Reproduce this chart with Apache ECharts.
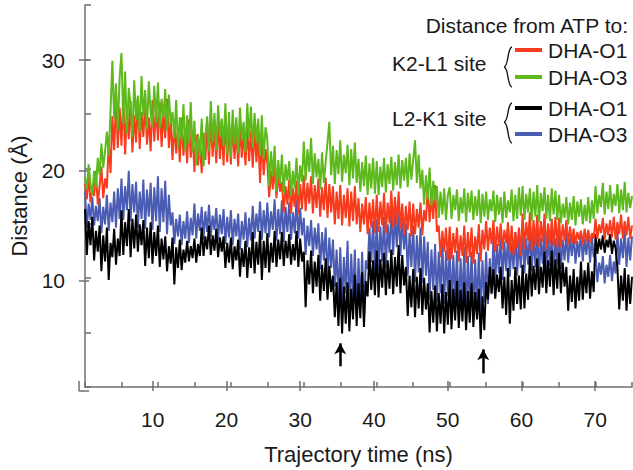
<!DOCTYPE html>
<html><head><meta charset="utf-8">
<script src="https://cdn.jsdelivr.net/npm/echarts@6/dist/echarts.min.js"></script>
<style>html,body{margin:0;padding:0;background:#fff}#c{width:633px;height:470px}</style>
</head><body><div id="c"></div>
<script>
// ---- data ----
const timeStepNs = 0.25;         // sampling interval of the arrays below (ns)
const xTickLabels = [10, 20, 30, 40, 50, 60, 70];
const yTickLabels = [10, 20, 30];
const seriesNames = ['K2-L1 DHA-O1', 'K2-L1 DHA-O3', 'L2-K1 DHA-O1', 'L2-K1 DHA-O3'];
const legendTitle = 'Distance from ATP to:';
const groupNames = ['K2-L1 site', 'L2-K1 site'];
const itemNames = ['DHA-O1', 'DHA-O3'];

// K2-L1 site, DHA-O1 (red) — one row per 5 ns
const k2l1O1 = [
 18.6,17.2,19.4,16.9,18.1,17.5,19.8,16.7,18.4,20.2,17.3,19.1,18.2,22.4,19.6,24.8,21.7,26.3,21.9,25.6,
 22.1,26.8,21.3,25.4,22.7,26.2,21.5,24.9,22.4,26.5,21.8,25.2,22.9,26.0,22.2,24.7,21.6,26.3,22.5,25.8,
 22.6,26.1,22.0,25.3,22.8,26.4,21.9,24.6,20.8,24.3,21.4,23.8,20.6,24.7,21.2,23.6,20.5,24.5,21.0,23.4,
 19.7,23.1,20.3,22.6,19.6,23.3,20.8,24.2,20.4,24.8,21.1,23.9,20.5,24.6,20.9,23.7,20.3,24.9,20.6,24.1,
 20.4,24.2,20.9,23.6,20.2,24.0,21.0,23.4,20.3,23.8,20.7,23.5,20.1,23.9,20.6,23.2,18.7,22.9,19.4,21.8,
 20.5,17.4,19.8,18.1,20.3,17.3,19.5,17.9,18.8,16.0,18.4,16.7,19.0,15.9,18.2,16.5,18.9,15.8,18.6,16.3,
 19.4,16.1,18.7,16.8,19.3,15.9,18.5,16.4,19.1,15.6,18.3,16.2,19.2,15.5,18.6,16.0,18.4,14.9,17.9,15.4,
 18.5,14.8,17.6,15.5,18.2,14.7,17.9,15.2,18.4,14.9,17.3,14.2,16.8,14.9,17.4,14.0,16.9,14.6,17.2,14.1,
 17.6,14.2,17.0,14.8,17.8,14.1,16.9,15.0,18.0,14.6,17.4,14.9,17.9,14.5,16.8,13.9,16.6,14.4,17.0,13.8,
 16.8,14.0,16.3,14.6,16.9,13.9,16.2,15.2,18.4,15.1,17.6,15.4,18.5,14.2,14.8,11.9,14.3,12.4,14.6,11.6,
 14.7,11.7,14.1,12.3,14.6,11.5,13.9,12.0,14.8,11.4,14.2,11.9,14.6,11.3,13.8,12.2,14.9,11.5,14.4,12.6,
 15.2,12.5,14.6,13.1,15.3,12.4,14.7,12.9,15.0,12.6,14.4,13.2,15.1,12.4,14.8,12.1,14.2,12.7,14.6,12.0,
 15.9,12.6,15.1,13.4,16.0,12.5,15.3,13.0,15.8,12.8,15.2,13.3,15.9,12.6,15.0,13.1,15.4,12.9,15.6,12.8,
 15.5,12.8,14.9,13.4,15.3,13.0,14.7,13.2,14.5,13.1,14.2,13.5,14.3,13.0,14.5,13.3,14.4,13.2,14.1,13.6,
 15.4,13.6,14.9,14.1,15.5,13.5,15.0,13.9,15.3,13.7,15.6,13.5,15.1,14.0,15.8,13.6,15.2,13.9,15.6,13.6,
 14.8];
// K2-L1 site, DHA-O3 (green)
const k2l1O3 = [
 19.2,18.1,20.4,18.6,17.6,19.8,18.3,21.0,19.4,22.3,20.1,21.6,23.4,21.2,25.3,29.9,24.6,27.8,23.5,28.4,
 30.6,24.1,28.9,23.2,27.4,25.8,22.9,28.1,24.5,26.7,23.3,28.5,24.8,27.2,23.6,28.0,25.1,23.8,27.6,24.2,
 27.9,23.7,26.4,24.6,27.3,23.5,26.8,24.1,25.2,22.8,26.3,21.9,24.7,22.6,25.9,21.6,24.9,22.3,26.1,21.5,
 24.4,20.3,23.2,21.1,24.6,20.2,22.9,24.8,21.6,26.2,22.4,25.1,21.7,25.8,23.0,24.6,22.1,26.0,21.3,25.2,
 21.0,25.4,22.2,24.7,21.4,25.6,22.6,24.3,21.5,26.0,22.8,25.7,21.9,25.1,22.4,24.6,21.2,24.9,20.9,23.8,
 22.7,18.4,21.6,19.3,22.1,17.9,20.8,18.6,21.3,17.7,20.4,18.9,20.7,17.5,19.8,18.2,21.0,17.6,20.3,18.8,
 22.5,18.9,21.8,19.7,22.8,18.6,21.4,19.2,20.9,18.1,21.5,18.7,20.6,22.4,24.3,19.4,22.1,18.6,21.7,19.5,
 22.6,18.8,21.3,19.6,22.2,18.5,21.8,19.1,22.4,18.7,20.9,17.9,20.6,18.4,21.2,17.6,20.5,18.2,21.0,17.7,
 20.7,17.6,20.2,18.3,21.0,17.8,20.4,18.6,21.1,18.0,20.6,18.5,21.3,18.2,20.8,18.9,21.0,18.3,21.4,19.0,
 20.8,22.6,18.7,21.3,18.2,19.9,16.7,19.4,17.2,20.1,16.6,18.9,17.1,18.4,15.5,17.9,15.8,18.2,15.3,17.6,
 18.3,15.4,17.6,16.2,18.1,15.2,17.4,15.9,18.2,15.1,17.8,16.0,18.0,15.3,17.5,15.7,18.1,15.0,17.7,15.6,
 17.9,15.3,17.2,16.1,18.0,15.1,17.6,15.8,17.4,15.0,17.9,15.5,17.1,16.0,18.1,15.2,17.6,15.4,18.3,15.7,
 18.4,15.3,17.7,16.0,18.2,15.2,17.9,15.6,18.5,15.1,17.8,16.1,18.3,15.4,17.6,15.2,18.2,15.8,18.0,15.3,
 17.6,15.0,16.8,15.5,17.4,14.9,16.9,15.3,17.5,14.8,17.0,15.6,17.2,14.9,16.7,15.2,17.4,15.0,17.1,15.4,
 18.4,15.9,17.6,16.5,18.7,15.8,17.9,16.3,18.5,16.0,17.7,16.6,18.6,15.9,18.1,16.2,18.8,16.0,17.8,16.4,
 17.5];
// L2-K1 site, DHA-O1 (black)
const l2k1O1 = [
 16.3,12.1,15.2,13.0,15.6,11.6,14.3,12.4,14.8,10.6,13.9,11.5,14.6,9.8,13.2,11.9,14.5,11.2,13.6,12.0,
 16.2,12.1,15.1,12.9,16.3,11.9,15.4,12.7,15.8,12.4,14.9,13.0,15.3,11.1,14.6,11.8,15.1,11.3,14.2,12.0,
 14.8,11.0,13.6,11.7,13.8,10.6,12.9,11.3,13.7,9.4,12.8,10.9,13.5,10.7,12.6,11.4,13.4,11.5,12.9,11.8,
 13.6,11.4,13.1,12.0,14.6,12.0,13.8,12.6,14.8,12.1,13.9,12.5,14.5,11.9,13.7,12.4,13.8,10.9,13.2,11.4,
 13.7,10.8,12.9,11.6,13.5,10.1,12.7,11.0,13.4,10.0,12.8,10.9,14.2,10.4,13.3,11.2,14.3,9.8,13.4,10.9,
 14.1,10.5,13.2,11.4,14.3,11.0,13.5,11.7,14.2,11.1,13.4,11.8,14.0,11.2,13.1,11.6,14.3,11.0,13.6,11.5,
 12.4,7.3,11.6,9.4,12.5,8.6,11.5,9.2,12.1,7.9,11.2,8.8,11.8,8.0,11.1,8.7,10.2,6.4,9.6,5.6,
 10.0,4.9,9.2,5.8,9.6,5.1,9.0,6.2,10.3,5.6,9.5,6.3,10.5,5.5,9.7,8.3,12.4,8.9,11.6,8.4,
 12.5,8.2,11.7,9.1,12.3,8.4,11.6,9.0,12.6,8.5,11.9,9.2,13.0,8.6,12.1,9.3,11.0,6.5,10.2,7.3,
 10.8,6.4,10.1,7.2,10.9,6.6,10.0,7.1,9.5,5.0,8.8,5.9,9.3,5.1,8.6,5.8,9.4,4.9,8.7,5.7,
 9.8,5.3,9.0,6.1,9.7,5.4,8.9,6.0,9.6,5.2,8.8,5.9,9.5,5.5,8.7,6.2,9.0,4.4,8.3,5.2,
 9.6,8.0,11.0,8.6,10.8,8.1,10.3,8.7,11.0,7.2,10.1,6.6,10.9,5.8,9.8,7.0,11.0,7.6,10.2,7.1,
 11.2,7.2,10.4,8.0,12.0,8.3,11.1,8.9,11.8,8.5,11.0,9.1,12.4,8.6,11.6,9.2,12.5,8.4,11.7,9.0,
 12.3,8.6,11.4,9.2,11.0,7.0,10.2,7.8,10.8,7.2,10.1,7.9,11.5,8.0,10.7,8.6,11.4,8.1,10.6,8.7,
 14.0,12.2,13.6,12.6,13.9,12.3,13.5,12.8,14.0,12.2,13.4,12.7,11.0,7.1,10.2,7.9,10.9,7.0,10.3,7.6,
 10.1];
// L2-K1 site, DHA-O3 (blue)
const l2k1O3 = [
 17.9,14.6,16.8,15.3,17.4,14.8,16.6,15.2,17.3,14.1,16.5,14.9,17.6,14.3,16.9,15.1,17.9,14.6,18.2,15.4,
 19.1,15.3,18.4,16.2,19.8,15.2,18.6,16.0,18.8,14.6,17.9,15.4,19.0,14.5,18.1,15.6,18.7,14.4,18.3,15.2,
 19.3,14.2,18.2,15.1,18.9,14.0,17.6,14.8,16.0,13.1,15.4,13.8,15.8,13.0,15.2,13.6,16.1,13.2,15.5,13.9,
 16.8,13.6,15.9,14.3,16.5,13.5,16.1,14.2,16.7,13.8,15.7,14.4,16.4,13.4,15.8,14.0,16.3,13.1,15.6,13.7,
 16.2,13.0,15.4,13.8,15.9,12.6,15.2,13.5,16.0,12.8,15.5,13.4,16.6,13.6,15.9,14.2,17.0,13.5,16.2,14.1,
 16.9,13.7,16.1,14.4,17.2,13.4,16.3,14.0,17.1,13.3,16.5,14.2,16.9,13.5,16.0,14.1,17.2,13.6,16.4,13.9,
 15.5,12.1,14.8,12.9,15.3,12.0,14.6,12.6,15.0,10.8,14.2,11.6,14.6,10.0,13.7,10.9,13.5,9.2,12.6,8.1,
 12.8,7.4,11.9,8.6,13.4,7.0,12.2,8.1,12.6,6.5,11.8,7.3,12.4,6.3,11.6,10.8,14.6,11.4,15.2,10.6,
 15.4,10.6,14.7,11.5,15.6,10.9,14.9,12.3,16.4,12.1,15.8,12.8,16.5,12.0,15.6,12.6,15.0,10.2,14.1,11.0,
 14.8,9.6,13.9,10.5,14.6,9.5,13.8,10.2,13.3,8.0,12.6,8.9,13.1,7.8,12.4,8.6,13.2,7.6,12.5,8.3,
 12.9,7.2,12.1,8.0,12.5,6.8,11.8,7.6,12.8,6.5,12.0,7.4,12.4,6.6,11.7,7.3,12.3,7.0,11.6,7.8,
 12.4,7.6,11.8,8.5,13.8,9.6,13.1,10.4,14.0,9.8,13.3,10.6,13.9,10.1,13.2,10.8,14.2,10.2,13.5,10.9,
 14.5,10.4,13.6,11.2,14.3,10.6,13.8,11.0,14.4,10.3,13.7,11.3,14.6,10.5,13.9,11.1,14.2,10.4,13.6,11.2,
 14.3,10.8,13.5,11.6,14.2,11.4,13.7,12.0,14.0,11.3,13.4,11.9,14.3,11.5,13.6,12.1,14.1,11.4,13.8,11.9,
 12.2,9.6,11.4,10.3,12.0,9.5,11.2,10.1,12.1,9.7,11.5,10.4,14.3,11.2,13.6,11.8,14.5,11.0,13.7,11.6,
 13.8];

// arrows marking the closest approaches (time in ns, tail and tip distance in Å)
const arrowTimes = [35, 54.6];
const arrowTail = [1.9, 1.25];
const arrowTip = [4.0, 3.45];

// ---- chart ----
const FONT = '"Liberation Sans", Arial, Helvetica, sans-serif';
const TXT = '#1a1a1a';
const AX = '#6e6e6e';
const COLORS = { red: '#f93b1d', green: '#5eb91c', black: '#000000', blue: '#4a5cb3' };

const W = 633, H = 470;
const G = { left: 79, right: 1, top: 5, bottom: 79 };
const X_MAX = 75, Y_MAX = 35, X_MAJ_MAX = 70, Y_MAJ_MAX = 30;
const plotW = W - G.left - G.right, plotH = H - G.top - G.bottom;
const G2 = {
  left: G.left, bottom: G.bottom,
  right: G.right + plotW * (X_MAX - X_MAJ_MAX) / X_MAX,
  top: G.top + plotH * (Y_MAX - Y_MAJ_MAX) / Y_MAX
};

const times = k2l1O1.map((_, i) => i * timeStepNs);
const toPairs = arr => arr.map((v, i) => [times[i], v]);

function mkSeries(name, arr, color, extra) {
  return Object.assign({
    name, type: 'line', xAxisIndex: 0, yAxisIndex: 0,
    data: toPairs(arr), showSymbol: false, symbol: 'none', silent: true,
    lineStyle: { color, width: 2, join: 'bevel' }, itemStyle: { color }, animation: false
  }, extra || {});
}

const arrowData = arrowTimes.map((t, i) => [
  { coord: [t, arrowTail[i]] }, { coord: [t, arrowTip[i]] }
]);

const chart = echarts.init(document.getElementById('c'), null, { renderer: 'svg', width: W, height: H });

const legendX = { lineL: 515, lineR: 542, text: 548, right: 628, group: 392 };
const rows = [50, 77, 108, 134];
const rowColors = [COLORS.red, COLORS.green, COLORS.black, COLORS.blue];
function braceParts(yTop, yBot, yMid) {
  const xe = 512, xs = 508, xt = 504;
  const st = { stroke: TXT, lineWidth: 1.4, fill: null };
  return [
    { type: 'bezierCurve', shape: { x1: xe, y1: yTop, cpx1: xs - 1, cpy1: yTop + 1, cpx2: xs + 1, cpy2: yMid - 1, x2: xt, y2: yMid }, style: st },
    { type: 'bezierCurve', shape: { x1: xt, y1: yMid, cpx1: xs + 1, cpy1: yMid + 1, cpx2: xs - 1, cpy2: yBot - 1, x2: xe, y2: yBot }, style: st }
  ];
}
const graphics = [
  { type: 'text', x: legendX.right, y: 25, style: { text: legendTitle, font: `21px ${FONT}`, fill: TXT, align: 'right', verticalAlign: 'middle' } },
  { type: 'text', x: legendX.group, y: 63, style: { text: groupNames[0], font: `21px ${FONT}`, fill: TXT, align: 'left', verticalAlign: 'middle' } },
  { type: 'text', x: legendX.group, y: 118, style: { text: groupNames[1], font: `21px ${FONT}`, fill: TXT, align: 'left', verticalAlign: 'middle' } }
].concat(braceParts(47, 87, 67), braceParts(103, 143, 122));
rows.forEach((y, i) => {
  graphics.push({ type: 'line', shape: { x1: legendX.lineL, y1: y, x2: legendX.lineR, y2: y }, style: { stroke: rowColors[i], lineWidth: 4 } });
  graphics.push({ type: 'text', x: legendX.text, y: y, style: { text: itemNames[i % 2], font: `21px ${FONT}`, fill: TXT, align: 'left', verticalAlign: 'middle' } });
});

const minorAxisStyle = { color: AX, width: 1.5 };

chart.setOption({
  animation: false,
  backgroundColor: '#fff',
  textStyle: { fontFamily: FONT },
  grid: [
    { left: G.left, right: G.right, top: G.top, bottom: G.bottom, containLabel: false },
    { left: G2.left, right: G2.right, top: G2.top, bottom: G2.bottom, containLabel: false }
  ],
  xAxis: [
    { gridIndex: 0, type: 'value', min: 0, max: X_MAX, interval: 5,
      name: 'Trajectory time (ns)', nameLocation: 'middle', nameGap: 56,
      nameTextStyle: { fontSize: 22, color: TXT, fontFamily: FONT },
      axisLine: { show: true, onZero: false, lineStyle: minorAxisStyle },
      axisTick: { show: true, inside: true, length: 5, lineStyle: minorAxisStyle },
      axisLabel: { show: false }, splitLine: { show: false } },
    { gridIndex: 1, type: 'value', min: 0, max: X_MAJ_MAX, interval: 10,
      axisLine: { show: false },
      axisTick: { show: true, inside: true, length: 10, lineStyle: minorAxisStyle },
      axisLabel: { show: true, margin: 18, fontSize: 21, color: TXT, fontFamily: FONT,
        formatter: v => xTickLabels.includes(v) ? String(v) : '' },
      splitLine: { show: false } }
  ],
  yAxis: [
    { gridIndex: 0, type: 'value', min: 0, max: Y_MAX, interval: 5,
      name: 'Distance (Å)', nameLocation: 'middle', nameGap: 55,
      nameTextStyle: { fontSize: 22, color: TXT, fontFamily: FONT },
      axisLine: { show: true, onZero: false, lineStyle: minorAxisStyle },
      axisTick: { show: true, inside: true, length: 6, lineStyle: minorAxisStyle },
      axisLabel: { show: false }, splitLine: { show: false } },
    { gridIndex: 1, type: 'value', min: 0, max: Y_MAJ_MAX, interval: 10,
      axisLine: { show: false },
      axisTick: { show: true, inside: true, length: 10, lineStyle: minorAxisStyle },
      axisLabel: { show: true, margin: 14, fontSize: 21, color: TXT, fontFamily: FONT,
        formatter: v => yTickLabels.includes(v) ? String(v) : '' },
      splitLine: { show: false } }
  ],
  series: [
    mkSeries(seriesNames[3], l2k1O3, COLORS.blue),
    mkSeries(seriesNames[2], l2k1O1, COLORS.black, {
      markLine: { silent: true, symbol: ['none', 'arrow'], symbolSize: [9, 11],
        lineStyle: { color: '#000', width: 2.5, type: 'solid' }, label: { show: false },
        emphasis: { disabled: true }, data: arrowData }
    }),
    mkSeries(seriesNames[0], k2l1O1, COLORS.red),
    mkSeries(seriesNames[1], k2l1O3, COLORS.green)
  ],
  graphic: graphics
});
</script></body></html>
